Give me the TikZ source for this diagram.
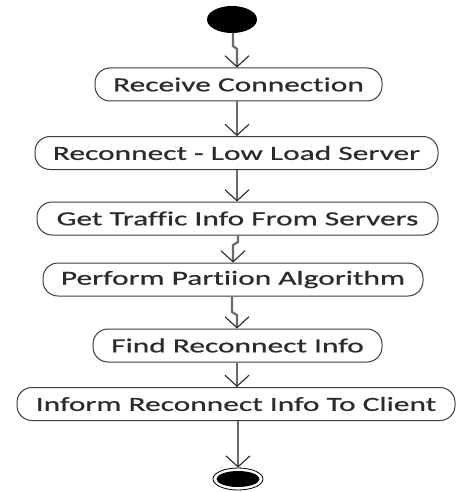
\documentclass[tikz,border=0pt]{standalone}
\usepackage{fontspec}
\newfontfamily\diagfont[FakeStretch=1.57,FakeBold=0.6,Ligatures=NoCommon]{Carlito}
\usetikzlibrary{arrows.meta,shapes.geometric}
\definecolor{txt}{HTML}{2B2B2B}
\definecolor{edge}{HTML}{3C3C3C}
\definecolor{flowc}{HTML}{6A6A6A}
\tikzset{
  box/.style={draw=edge, line width=1pt, fill=white, rounded corners=15pt,
    minimum height=33pt, inner sep=0pt, text=txt,
    font=\diagfont\fontsize{20}{22}\selectfont},
  flow/.style={draw=flowc, line width=2.2pt,
    -{Straight Barb[length=11pt,width=24pt,line width=1.1pt,color=black!85]}},
}
\begin{document}
\begin{tikzpicture}[x=1pt,y=-1pt]
\useasboundingbox (0,0) rectangle (460,492);
% start
\node[ellipse, fill=black, minimum width=50pt, minimum height=27pt, inner sep=0pt] (start) at (232,19.5) {};
% activities
\node[box, minimum width=287pt] (b1) at (238.5,84.5) {Receive Connection};
\node[box, minimum width=403pt] (b2) at (236.5,153) {Reconnect - Low Load Server};
\node[box, minimum width=401pt] (b3) at (237.5,218.5) {Get Traffic Info From Servers};
\node[box, minimum width=380pt] (b4) at (233,279.5) {Perform Partiion Algorithm};
\node[box, minimum width=289pt] (b5) at (237.5,345.5) {Find Reconnect Info};
\node[box, minimum width=438pt] (b6) at (236,404) {Inform Reconnect Info To Client};
% end
\node[ellipse, draw=black, line width=0.8pt, minimum width=50pt, minimum height=22pt, inner sep=0pt] (endo) at (238,479) {};
\node[ellipse, fill=black, minimum width=43pt, minimum height=16pt, inner sep=0pt] (endi) at (238,479) {};
% jog coordinates
\coordinate (j1a) at (233,46);
\coordinate (j1b) at (237,49);
\coordinate (j3a) at (238,242);
\coordinate (j3b) at (233,245);
\coordinate (j4a) at (232,312);
\coordinate (j4b) at (237,315);
% connectors
\draw[flow] (start.south -| j1a) -- (j1a) -- (j1b) -- (j1b |- b1.north);
\draw[flow] (b1.south -| 237,0) -- (b2.north -| 237,0);
\draw[flow] (b2.south -| 237,0) -- (b3.north -| 237,0);
\draw[flow] (b3.south -| j3a) -- (j3a) -- (j3b) -- (j3b |- b4.north);
\draw[flow] (b4.south -| j4a) -- (j4a) -- (j4b) -- (j4b |- b5.north);
\draw[flow] (b5.south -| 237,0) -- (b6.north -| 237,0);
\draw[flow] (b6.south -| 238,0) -- (endo.north);
\end{tikzpicture}
\end{document}
